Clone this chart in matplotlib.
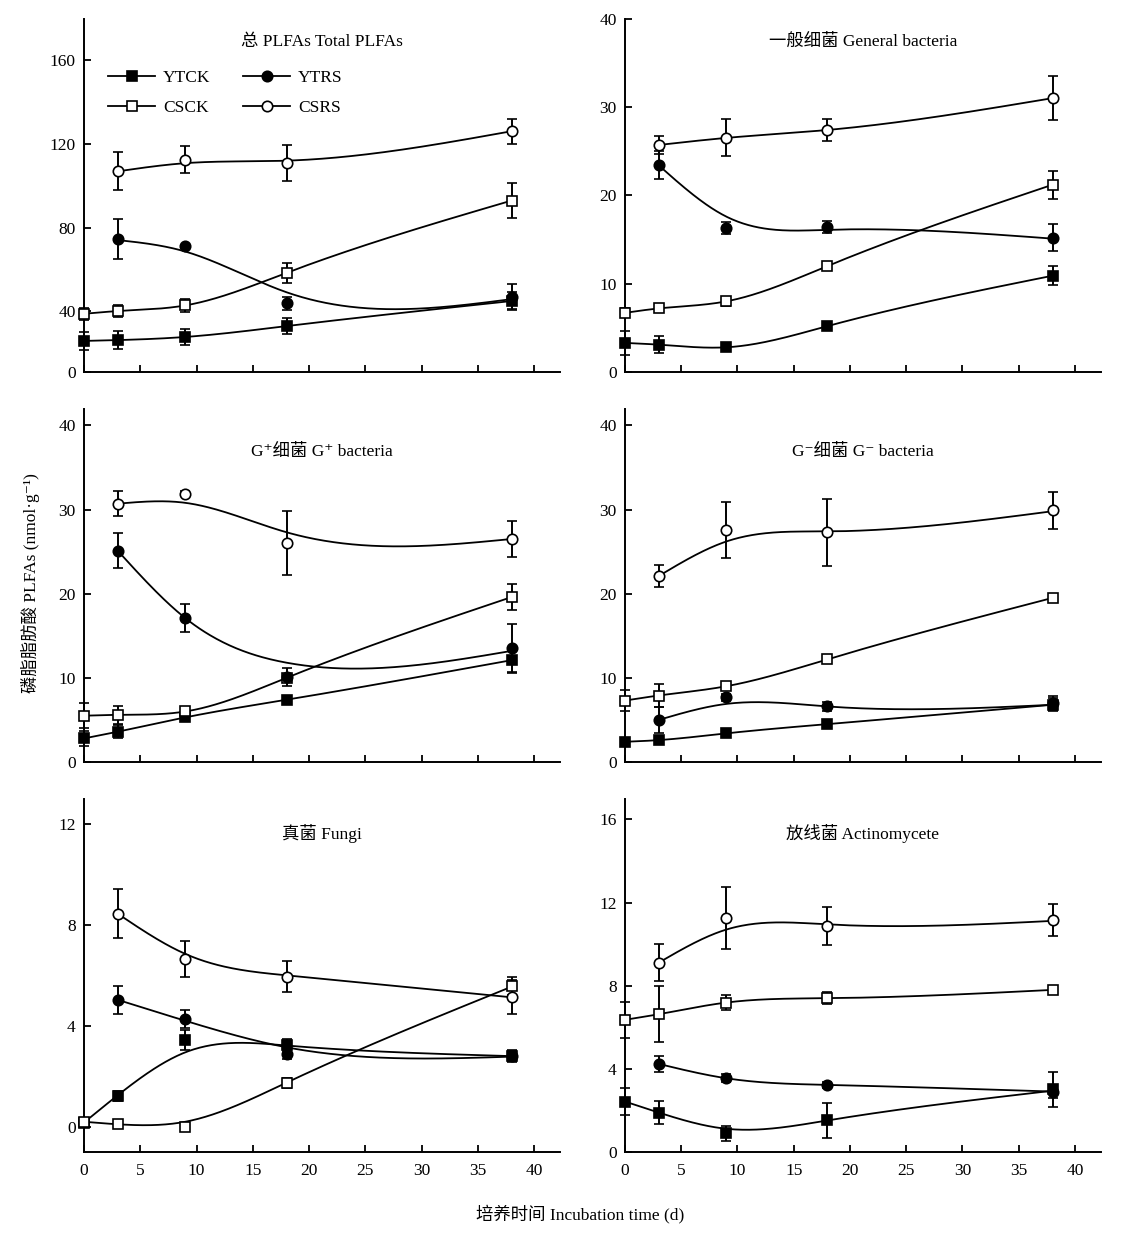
import numpy as np
import matplotlib
matplotlib.use('Agg')
import matplotlib.pyplot as plt
from matplotlib.lines import Line2D

plt.rcParams['font.family'] = ['Liberation Serif', 'Noto Sans CJK SC', 'DejaVu Serif']
plt.rcParams['axes.unicode_minus'] = False

days = [0, 3, 9, 18, 38]      # CK series
days_rs = [3, 9, 18, 38]      # RS series

# Total PLFAs
tot_ytck = [25.7, 26.1, 27.6, 32.8, 44.8]
tot_ytck_err = [4.5, 4.2, 4.0, 3.7, 4.5]
tot_csck = [38.7, 40.0, 42.7, 58.3, 92.9]
tot_csck_err = [3.0, 3.0, 3.0, 4.8, 8.2]
tot_ytrs = [74.6, 71.0, 43.7, 46.9]
tot_ytrs_err = [9.5, 0, 3.0, 6.0]
tot_ytrs_fit = [74.0, 68.5, 49.0, 45.7]
tot_csrs = [106.9, 112.5, 110.8, 126.1]
tot_csrs_err = [9.1, 6.4, 8.6, 6.0]
tot_csrs_fit = [106.9, 110.8, 112.0, 126.1]

# General bacteria
gen_ytck = [3.3, 3.1, 2.8, 5.2, 10.9]
gen_ytck_err = [1.4, 1.0, 0.4, 0.4, 1.1]
gen_csck = [6.7, 7.2, 8.0, 12.0, 21.2]
gen_csck_err = [0.5, 0.4, 0.5, 0.4, 1.6]
gen_ytrs = [23.4, 16.3, 16.4, 15.2]
gen_ytrs_err = [1.6, 0.7, 0.7, 1.5]
gen_ytrs_fit = [23.4, 17.6, 16.1, 15.1]
gen_csrs = [25.7, 26.5, 27.4, 31.0]
gen_csrs_err = [1.0, 2.1, 1.2, 2.5]

# G+ bacteria
gp_ytck = [2.8, 3.6, 5.3, 7.4, 12.1]
gp_ytck_err = [0.9, 0.8, 0.4, 0.4, 1.4]
gp_csck = [5.5, 5.6, 6.0, 10.0, 19.6]
gp_csck_err = [1.5, 1.1, 0.3, 0.4, 1.5]
gp_ytrs = [25.1, 17.1, 10.1, 13.5]
gp_ytrs_err = [2.1, 1.7, 1.1, 2.9]
gp_ytrs_fit = [25.1, 17.1, 11.8, 13.2]
gp_csrs = [30.7, 31.9, 26.0, 26.5]
gp_csrs_err = [1.5, 0.3, 3.8, 2.1]
gp_csrs_fit = [30.7, 30.8, 27.3, 26.5]

# G- bacteria
gn_ytck = [2.4, 2.6, 3.4, 4.5, 6.8]
gn_ytck_err = [0.4, 0.4, 0.4, 0.3, 0.8]
gn_csck = [7.3, 7.9, 9.0, 12.2, 19.5]
gn_csck_err = [1.2, 1.4, 0.3, 0.3, 0.3]
gn_ytrs = [5.0, 7.7, 6.6, 7.0]
gn_ytrs_err = [1.5, 0.4, 0.5, 0.8]
gn_ytrs_fit = [5.0, 6.9, 6.6, 6.8]
gn_csrs = [22.1, 27.6, 27.3, 29.9]
gn_csrs_err = [1.3, 3.3, 4.0, 2.2]
gn_csrs_fit = [22.1, 26.2, 27.4, 29.8]

# Fungi
fu_ytck = [0.17, 1.23, 3.44, 3.24, 2.8]
fu_ytck_err = [0.15, 0.2, 0.4, 0.25, 0.25]
fu_ytck_fit = [0.17, 1.25, 2.95, 3.22, 2.8]
fu_csck = [0.2, 0.13, 0.0, 1.75, 5.58]
fu_csck_err = [0.1, 0.1, 0.05, 0.2, 0.35]
fu_csck_fit = [0.2, 0.1, 0.2, 1.75, 5.55]
fu_ytrs = [5.03, 4.26, 2.87, 2.82]
fu_ytrs_err = [0.55, 0.35, 0.2, 0.2]
fu_ytrs_fit = [5.03, 4.2, 3.15, 2.78]
fu_csrs = [8.44, 6.65, 5.95, 5.13]
fu_csrs_err = [0.97, 0.7, 0.6, 0.68]
fu_csrs_fit = [8.44, 6.85, 6.0, 5.13]

# Actinomycete
ac_ytck = [2.43, 1.9, 0.91, 1.52, 3.03]
ac_ytck_err = [0.66, 0.55, 0.36, 0.84, 0.84]
ac_ytck_fit = [2.43, 1.9, 1.12, 1.52, 2.95]
ac_csck = [6.36, 6.63, 7.19, 7.4, 7.8]
ac_csck_err = [0.85, 1.35, 0.35, 0.28, 0.15]
ac_ytrs = [4.24, 3.55, 3.23, 2.91]
ac_ytrs_err = [0.37, 0.2, 0.15, 0.3]
ac_csrs = [9.11, 11.27, 10.87, 11.16]
ac_csrs_err = [0.89, 1.48, 0.9, 0.76]
ac_csrs_fit = [9.11, 10.7, 10.95, 11.12]

titles = ['总 PLFAs Total PLFAs', '一般细菌 General bacteria',
          'G⁺细菌 G⁺ bacteria', 'G⁻细菌 G⁻ bacteria',
          '真菌 Fungi', '放线菌 Actinomycete']
ylims = [(10.8, 180), (0, 40), (0, 42), (0, 42), (-1.0, 13.0), (0, 17)]
yticks = [[10.8, 40, 80, 120, 160], [0, 10, 20, 30, 40], [0, 10, 20, 30, 40],
          [0, 10, 20, 30, 40], [0, 4, 8, 12], [0, 4, 8, 12, 16]]
yticklabels = [['0', '40', '80', '120', '160'], None, None, None, None, None]
title_y = [0.935, 0.935, 0.876, 0.876, 0.90, 0.90]

panels = [
    (tot_ytck, tot_ytck_err, None, tot_csck, tot_csck_err, None,
     tot_ytrs, tot_ytrs_err, tot_ytrs_fit, tot_csrs, tot_csrs_err, tot_csrs_fit),
    (gen_ytck, gen_ytck_err, None, gen_csck, gen_csck_err, None,
     gen_ytrs, gen_ytrs_err, gen_ytrs_fit, gen_csrs, gen_csrs_err, None),
    (gp_ytck, gp_ytck_err, None, gp_csck, gp_csck_err, None,
     gp_ytrs, gp_ytrs_err, gp_ytrs_fit, gp_csrs, gp_csrs_err, gp_csrs_fit),
    (gn_ytck, gn_ytck_err, None, gn_csck, gn_csck_err, None,
     gn_ytrs, gn_ytrs_err, gn_ytrs_fit, gn_csrs, gn_csrs_err, gn_csrs_fit),
    (fu_ytck, fu_ytck_err, fu_ytck_fit, fu_csck, fu_csck_err, fu_csck_fit,
     fu_ytrs, fu_ytrs_err, fu_ytrs_fit, fu_csrs, fu_csrs_err, fu_csrs_fit),
    (ac_ytck, ac_ytck_err, ac_ytck_fit, ac_csck, ac_csck_err, None,
     ac_ytrs, ac_ytrs_err, None, ac_csrs, ac_csrs_err, ac_csrs_fit),
]


def spline(x, y, n=300):
    # natural cubic spline, only for drawing the smooth line
    x = np.asarray(x, float)
    y = np.asarray(y, float)
    k = len(x)
    h = np.diff(x)
    A = np.zeros((k, k))
    b = np.zeros(k)
    A[0, 0] = A[-1, -1] = 1
    for i in range(1, k - 1):
        A[i, i - 1] = h[i - 1]
        A[i, i] = 2 * (h[i - 1] + h[i])
        A[i, i + 1] = h[i]
        b[i] = 3 * ((y[i + 1] - y[i]) / h[i] - (y[i] - y[i - 1]) / h[i - 1])
    c = np.linalg.solve(A, b)
    xs = np.linspace(x[0], x[-1], n)
    idx = np.clip(np.searchsorted(x, xs) - 1, 0, k - 2)
    dx = xs - x[idx]
    bc = (y[idx + 1] - y[idx]) / h[idx] - h[idx] * (2 * c[idx] + c[idx + 1]) / 3
    d = (c[idx + 1] - c[idx]) / (3 * h[idx])
    return xs, y[idx] + bc * dx + c[idx] * dx ** 2 + d * dx ** 3


styles = [('s', 'black'), ('s', 'white'), ('o', 'black'), ('o', 'white')]
names = ['YTCK', 'CSCK', 'YTRS', 'CSRS']

fig = plt.figure(figsize=(11.26, 12.51), dpi=100)
lefts = [0.0746, 0.555]
bottoms = [0.7026, 0.3909, 0.0791]
w = 0.4227
hgt = 0.2825

for p in range(6):
    row, col = p // 2, p % 2
    ax = fig.add_axes([lefts[col], bottoms[row], w, hgt])
    d = panels[p]
    series = [(days, d[0], d[1], d[2]), (days, d[3], d[4], d[5]),
              (days_rs, d[6], d[7], d[8]), (days_rs, d[9], d[10], d[11])]
    for (xv, yv, ev, fit), (mk, fc) in zip(series, styles):
        xs, ys = spline(xv, fit if fit is not None else yv)
        ax.plot(xs, ys, color='black', lw=1.3, zorder=2)
        ax.errorbar(xv, yv, yerr=ev, fmt=mk, ms=7.5, mfc=fc, mec='black', mew=1.2,
                    ecolor='black', elinewidth=1.4, capsize=3.5, capthick=1.4,
                    zorder=3, clip_on=False)
    ax.set_xlim(0, 42.3)
    ax.set_ylim(*ylims[p])
    ax.set_xticks(range(0, 45, 5))
    ax.set_yticks(yticks[p])
    if yticklabels[p] is not None:
        ax.set_yticklabels(yticklabels[p])
    if row < 2:
        ax.set_xticklabels([])
    for s in ['top', 'right']:
        ax.spines[s].set_visible(False)
    for s in ['left', 'bottom']:
        ax.spines[s].set_linewidth(1.4)
    ax.tick_params(direction='in', length=5, width=1.3, labelsize=12.5)
    ax.tick_params(axis='x', pad=8)
    ax.tick_params(axis='y', pad=6)
    ax.text(0.5, title_y[p], titles[p], transform=ax.transAxes,
            ha='center', va='center', fontsize=12.5)
    if p == 0:
        handles = [Line2D([], [], color='black', lw=1.3, marker=mk, ms=7.5,
                          mfc=fc, mec='black', mew=1.2) for mk, fc in styles]
        ax.legend(handles, names, ncol=2, frameon=False, loc='upper left',
                  bbox_to_anchor=(0.018, 0.90), fontsize=12.5, handlelength=2.7,
                  handletextpad=0.45, columnspacing=1.9, labelspacing=0.8)

fig.text(0.027, 0.534, '磷脂脂肪酸 PLFAs (nmol·g⁻¹)', rotation=90,
         ha='center', va='center', fontsize=12.5)
fig.text(0.515, 0.03, '培养时间 Incubation time (d)', ha='center', va='center',
         fontsize=12.5)

fig.savefig('out.png', dpi=100)
